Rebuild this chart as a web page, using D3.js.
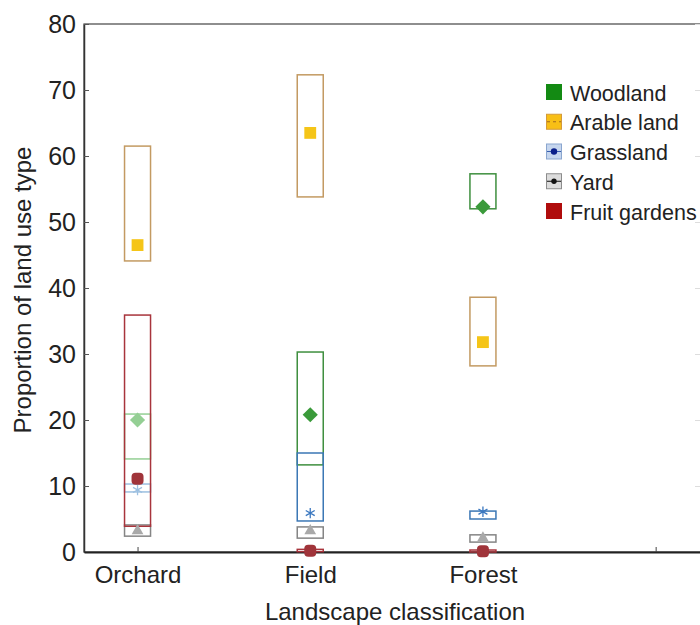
<!DOCTYPE html>
<html>
<head>
<meta charset="utf-8">
<script src="https://cdn.jsdelivr.net/npm/d3@7"></script>
<style>
  body { margin: 0; background: #fff; }
  text { font-family: "Liberation Sans", Arial, sans-serif; fill: #222; }
</style>
</head>
<body>
<svg id="chart" width="700" height="625"></svg>
<script>
// Categories on the x axis (last tick is empty)
var categories = ["Orchard", "Field", "Forest"];
var seriesNames = ["Woodland", "Arable land", "Grassland", "Yard", "Fruit gardens"];
var yTicks = [0, 10, 20, 30, 40, 50, 60, 70, 80];

// Mean and interval (low / high) per series, one value per category
var woodlandMean = [20.0, 20.8, 52.3];
var woodlandLow = [14.1, 13.2, 52.0];
var woodlandHigh = [20.9, 30.3, 57.3];

var arableMean = [46.5, 63.5, 31.8];
var arableLow = [44.1, 53.8, 28.2];
var arableHigh = [61.5, 72.3, 38.6];

var grassMean = [9.4, 5.9, 6.1];
var grassLow = [9.1, 4.7, 5.0];
var grassHigh = [10.3, 15.0, 6.2];

var yardMean = [3.2, 3.2, 2.1];
var yardLow = [2.4, 2.1, 1.5];
var yardHigh = [4.1, 3.8, 2.6];

var fruitMean = [11.1, 0.2, 0.1];
var fruitLow = [3.9, 0.05, 0.0];
var fruitHigh = [35.9, 0.4, 0.3];

// styles
var styles = {
  "Woodland": { stroke: "#3f8f3f", fill: "#3a9a3a", faded: "#94cf94", shape: "diamond" },
  "Arable land": { stroke: "#c39a62", fill: "#f5c518", faded: "#f5c518", shape: "square" },
  "Grassland": { stroke: "#3b77b5", fill: "#3b78c0", faded: "#9cbfe0", shape: "asterisk" },
  "Yard": { stroke: "#858585", fill: "#a9a9a9", faded: "#a9a9a9", shape: "triangle" },
  "Fruit gardens": { stroke: "#a8343c", fill: "#a0343a", faded: "#a0343a", shape: "round" }
};

var rows = [];
[[woodlandMean, woodlandLow, woodlandHigh],
 [arableMean, arableLow, arableHigh],
 [grassMean, grassLow, grassHigh],
 [yardMean, yardLow, yardHigh],
 [fruitMean, fruitLow, fruitHigh]].forEach(function(s, si) {
  categories.forEach(function(c, ci) {
    rows.push({ series: seriesNames[si], cat: ci, mean: s[0][ci], low: s[1][ci], high: s[2][ci] });
  });
});

var svg = d3.select("#chart");

var xScale = d3.scaleLinear().domain([-0.31, 3.28]).range([84, 704]);
var yScale = d3.scaleLinear().domain([0, 80]).range([552, 24]);

// frame
svg.append("rect")
  .attr("x", 84).attr("y", 24)
  .attr("width", 620).attr("height", 528)
  .attr("fill", "none")
  .attr("stroke", "#444")
  .attr("stroke-width", 1.2);

// faint right ticks
svg.append("g")
  .attr("transform", "translate(704,0)")
  .call(d3.axisRight(yScale).tickValues(yTicks).tickSize(-9).tickFormat(""))
  .call(function(g) {
    g.select(".domain").remove();
    g.selectAll("line").attr("stroke", "#ddd");
  });

var leftAxis = d3.axisLeft(yScale).tickValues(yTicks).tickSizeInner(-5).tickSizeOuter(0).tickPadding(8);
svg.append("g")
  .attr("transform", "translate(84,0)")
  .call(leftAxis)
  .call(function(g) {
    g.select(".domain").attr("stroke", "#333").attr("stroke-width", 1.5);
    g.selectAll("line").attr("stroke", "#555");
    g.selectAll("text").style("font-size", "25px").attr("fill", "#222");
  });

var bottomAxis = d3.axisBottom(xScale).tickValues([0, 1, 2, 3])
  .tickFormat(function(d) { return categories[d] || ""; })
  .tickSizeInner(-5).tickSizeOuter(0).tickPadding(14);
svg.append("g")
  .attr("transform", "translate(0,552)")
  .call(bottomAxis)
  .call(function(g) {
    g.select(".domain").attr("stroke", "#222").attr("stroke-width", 2);
    g.selectAll("line").attr("stroke", "#444");
    g.selectAll("text").style("font-size", "24px").attr("fill", "#222");
  });

// axis titles
svg.append("text")
  .attr("transform", "translate(31,290) rotate(-90)")
  .attr("text-anchor", "middle")
  .style("font-size", "24px")
  .text("Proportion of land use type");

svg.append("text")
  .attr("x", 395).attr("y", 620)
  .attr("text-anchor", "middle")
  .style("font-size", "24px")
  .text("Landscape classification");

// interval boxes
var boxW = 26;
var plot = svg.append("g");

function colorFor(d, key) {
  var st = styles[d.series];
  if (d.cat === 0 && (d.series === "Woodland" || d.series === "Grassland")) return st.faded;
  return st[key];
}

plot.selectAll("rect.box")
  .data(rows)
  .join("rect")
  .attr("class", "box")
  .attr("x", d => xScale(d.cat) - boxW / 2)
  .attr("y", d => yScale(d.high))
  .attr("width", boxW)
  .attr("height", d => yScale(d.low) - yScale(d.high))
  .attr("fill", "none")
  .attr("stroke", d => colorFor(d, "stroke"))
  .attr("stroke-width", 1.5);

// mean markers
var symbolTypes = {
  diamond: d3.symbol().type(d3.symbolSquare).size(115),
  square: d3.symbol().type(d3.symbolSquare).size(140),
  asterisk: d3.symbol().type(d3.symbolAsterisk).size(75),
  triangle: d3.symbol().type(d3.symbolTriangle).size(60)
};

rows.forEach(function(d) {
  var st = styles[d.series];
  var cx = xScale(d.cat), cy = yScale(d.mean);
  var col = colorFor(d, "fill");
  if (st.shape === "round") {
    plot.append("rect")
      .attr("x", cx - 6).attr("y", cy - 6)
      .attr("width", 12).attr("height", 12)
      .attr("rx", 4)
      .attr("fill", col);
  } else if (st.shape === "asterisk") {
    plot.append("path")
      .attr("d", symbolTypes.asterisk())
      .attr("transform", "translate(" + cx + "," + cy + ")")
      .attr("fill", "none")
      .attr("stroke", col)
      .attr("stroke-width", 1.3);
  } else {
    plot.append("path")
      .attr("d", symbolTypes[st.shape]())
      .attr("transform", "translate(" + cx + "," + cy + ")" + (st.shape === "diamond" ? " rotate(45)" : ""))
      .attr("fill", col);
  }
});

// legend
var legend = svg.append("g").attr("transform", "translate(546,92)");
var legendY = d3.scalePoint().domain(seriesNames).range([0, 119]);

seriesNames.forEach(function(name) {
  var g = legend.append("g").attr("transform", "translate(0," + legendY(name) + ")");
  if (name === "Woodland" || name === "Fruit gardens") {
    g.append("rect").attr("x", 0).attr("y", -8).attr("width", 16).attr("height", 16)
      .attr("fill", name === "Woodland" ? "#138a13" : "#b00c0c");
  } else if (name === "Arable land") {
    g.append("rect").attr("x", 0.5).attr("y", -7.5).attr("width", 15).attr("height", 15)
      .attr("fill", "#f8bf16").attr("stroke", "#d49a3a");
    g.append("line").attr("x1", 1).attr("x2", 15).attr("y1", 0).attr("y2", 0)
      .attr("stroke", "#a06a20").attr("stroke-dasharray", "3,3");
  } else {
    var isGrass = name === "Grassland";
    g.append("rect").attr("x", 0.5).attr("y", -7.5).attr("width", 15).attr("height", 15)
      .attr("fill", isGrass ? "#c6d6ee" : "#dcdcdc")
      .attr("stroke", isGrass ? "#8aa6cf" : "#8c8c8c");
    g.append("line").attr("x1", 1).attr("x2", 15).attr("y1", 0).attr("y2", 0)
      .attr("stroke", isGrass ? "#3a5fb0" : "#111");
    g.append("circle").attr("cx", 8).attr("cy", 0).attr("r", isGrass ? 3.2 : 2.7)
      .attr("fill", isGrass ? "#0a1f8a" : "#111");
  }
  g.append("text")
    .attr("x", 24).attr("y", 1).attr("dy", "0.35em")
    .style("font-size", "21.5px")
    .text(name);
});
</script>
</body>
</html>
